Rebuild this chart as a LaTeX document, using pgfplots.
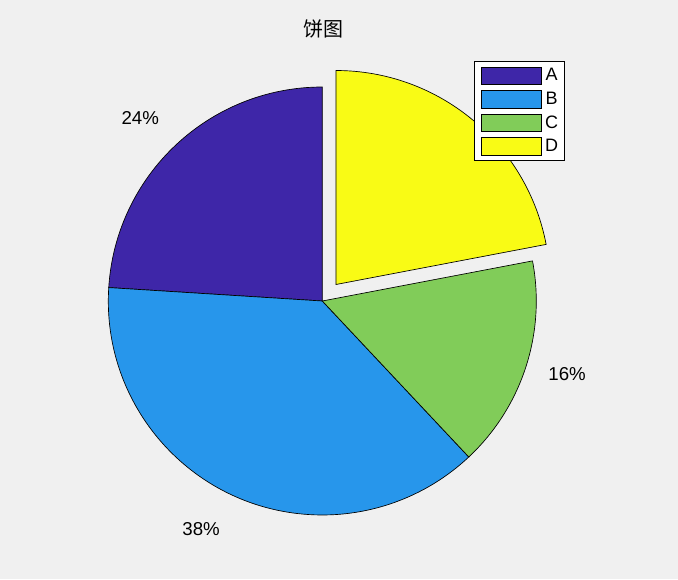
\documentclass[border=0pt]{standalone}
\usepackage{fontspec}
\setmainfont{Liberation Sans}
\newfontfamily\cjk{Noto Sans CJK SC}
\usepackage{pgfplots}
\usepackage{pgfplotstable}
\pgfplotsset{compat=1.18}

\definecolor{bg}{RGB}{240,240,240}
\definecolor{pA}{RGB}{62,38,168}
\definecolor{pB}{RGB}{39,150,235}
\definecolor{pC}{RGB}{129,204,89}
\definecolor{pD}{RGB}{249,251,21}

% share in percent, colour, exploded or not
\pgfplotstableread{
lab pct col expl
A 24 pA 0
B 38 pB 0
C 16 pC 0
D 22 pD 1
}\piedata

% axis units are pixels of the reference; 1 px = 0.75pt
\def\cx{322.3}
\def\cy{278}
\def\rad{214}
\newcommand\lblfont{\fontsize{14}{16}\selectfont}

\begin{document}
\begin{tikzpicture}
\path[use as bounding box, fill=bg] (0,0) rectangle (508.5pt,434.25pt);
\begin{axis}[
  at={(0,0)}, anchor=south west,
  scale only axis, width=508.5pt, height=434.25pt,
  xmin=0, xmax=678, ymin=0, ymax=579,
  hide axis, clip=false,
  legend style={at={(axis cs:474,518)}, anchor=north west,
    draw=black, fill=white, line width=0.5pt,
    inner xsep=5pt, inner ysep=4pt, row sep=3.9pt,
    font=\fontsize{13.5}{14}\selectfont,
    nodes={inner sep=0pt},
    /tikz/every odd column/.style={column sep=2.5pt}},
  piepatch/.style={legend image code/.code={%
    \draw[##1,draw=black,line width=0.5pt] (0pt,-6.6pt) rectangle (45pt,6.6pt);}},
]
\def\ang{90}
\pgfplotsforeachungrouped \i in {0,...,3}{%
  \pgfplotstablegetelem{\i}{pct}\of\piedata \let\pct\pgfplotsretval
  \pgfplotstablegetelem{\i}{col}\of\piedata \let\col\pgfplotsretval
  \pgfplotstablegetelem{\i}{expl}\of\piedata \let\ex\pgfplotsretval
  \pgfmathsetmacro\a{\ang}
  \pgfmathsetmacro\b{\ang+3.6*\pct}
  \pgfmathsetmacro\m{(\a+\b)/2}
  \pgfmathsetmacro\cm{cos(\m)}
  \pgfmathsetmacro\sm{sin(\m)}
  \pgfmathsetmacro\ox{\cx+0.1*\rad*\ex*\cm}
  \pgfmathsetmacro\oy{\cy+0.1*\rad*\ex*\sm}
  \pgfmathsetmacro\lx{\ox+1.1*\rad*\cm}
  \pgfmathsetmacro\ly{\oy+1.1*\rad*\sm}
  % label anchored at its corner, as MATLAB does
  \ifdim\cm pt<0pt \def\ha{east}\else\def\ha{west}\fi
  \ifdim\sm pt>0.5pt \def\va{south }\def\ys{3.5pt}%
  \else\ifdim\sm pt<-0.5pt \def\va{north }\def\ys{6pt}%
  \else\def\va{}\def\ys{0pt}\fi\fi
  \edef\temp{%
    \noexpand\filldraw[fill=\col, draw=black, line width=0.5pt]
      (axis cs:\ox,\oy) -- ++(\a:160.5pt)
      arc[start angle=\a, end angle=\b, radius=160.5pt] -- cycle;
    \noexpand\node[font=\noexpand\lblfont, inner xsep=1.5pt, inner ysep=\ys,
      anchor=\va\ha] at (axis cs:\lx,\ly) {\pct\noexpand\%};}
  \temp
  \let\ang\b
}
\node[font=\cjk\fontsize{15}{16}\selectfont] at (axis cs:323,550) {饼图};
\addlegendimage{piepatch, fill=pA}\addlegendentry{A}
\addlegendimage{piepatch, fill=pB}\addlegendentry{B}
\addlegendimage{piepatch, fill=pC}\addlegendentry{C}
\addlegendimage{piepatch, fill=pD}\addlegendentry{D}
\end{axis}
\end{tikzpicture}
\end{document}
